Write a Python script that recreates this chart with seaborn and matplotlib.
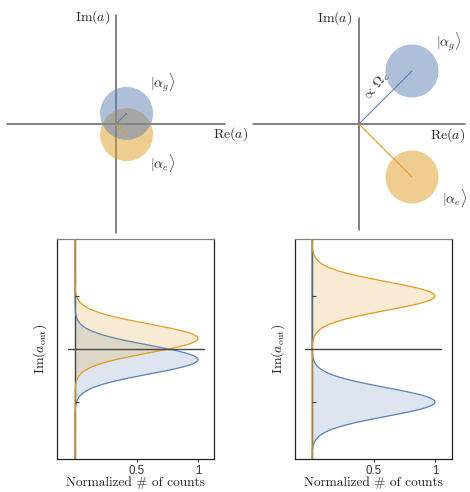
import numpy as np
import pandas as pd
import matplotlib
matplotlib.use("Agg")
import matplotlib.pyplot as plt
from matplotlib.patches import Circle
import seaborn as sns

sns.set_theme(style="white")
plt.rcParams["mathtext.fontset"] = "cm"
plt.rcParams["font.family"] = ["DejaVu Serif"]

# ---------------- data ----------------
states = ["g", "e"]
# coherent-state centres in phase space (Re, Im), small and large dispersive shift
centres_small = {"g": (0.2, 0.2), "e": (0.2, -0.2)}
centres_large = {"g": (1.0, 1.0), "e": (1.0, -1.0)}
circle_radius = 0.5
# histogram peaks of Im(a_out) (Gaussian means) and common width
peaks_small = {"g": -0.2, "e": 0.2}
peaks_large = {"g": -1.0, "e": 1.0}
peak_width = 0.27
x_ticks = [0.5, 1.0]
x_tick_labels = ["0.5", "1"]
y_ticks = [-1.0, 1.0]

BLUE = "#5e81b5"
ORANGE = "#e19c24"
colors = {"g": BLUE, "e": ORANGE}

W, H = 470, 492
fig = plt.figure(figsize=(W / 100, H / 100), dpi=100)


def px_axes(left, top, width, height, ox, oy, ppu_x, ppu_y):
    ax = fig.add_axes([left / W, 1 - (top + height) / H, width / W, height / H])
    ax.set_xlim((left - ox) / ppu_x, (left + width - ox) / ppu_x)
    ax.set_ylim((oy - (top + height)) / ppu_y, (oy - top) / ppu_y)
    return ax


AXC = "#5f5f5f"
FS = 10


def phase_panel(ax, centres, ext, txt):
    ax.axis("off")
    ax.plot([-ext, ext], [0, 0], color=AXC, lw=1.1, zorder=1)
    ax.plot([0, 0], [-ext, ext], color=AXC, lw=1.1, zorder=1)
    for s in ["e", "g"]:
        cx, cy = centres[s]
        ax.add_patch(Circle((cx, cy), circle_radius, facecolor=colors[s],
                            edgecolor="none", alpha=0.5, zorder=2))
    for s in states:
        cx, cy = centres[s]
        ax.plot([0, cx], [0, cy], color=colors[s], lw=0.8, zorder=3)
    ax.text(*txt["im"], r"$\mathrm{Im}(a)$", ha="right", va="center", fontsize=FS)
    ax.text(*txt["re"], r"$\mathrm{Re}(a)$", ha="left", va="center", fontsize=FS)
    ax.text(*txt["g"], r"$|\alpha_g\rangle$", ha="left", va="center", fontsize=FS)
    ax.text(*txt["e"], r"$|\alpha_e\rangle$", ha="left", va="center", fontsize=FS)


ax1 = px_axes(0, 0, 235, 238, 116, 124, 53, 53)
phase_panel(ax1, centres_small, 2.05,
            {"im": (-0.11, 2.02), "re": (1.83, -0.19), "g": (0.64, 0.79), "e": (0.64, -0.74)})

ax2 = px_axes(235, 0, 235, 238, 359, 124, 53, 53)
phase_panel(ax2, centres_large, 2.0,
            {"im": (-0.13, 2.0), "re": (1.34, -0.21), "g": (1.45, 1.55), "e": (1.57, -1.4)})
ax2.text(0.33, 0.7, r"$\propto\,\Omega_c$", rotation=52, ha="center", va="center",
         fontsize=FS, rotation_mode="anchor")

yy = np.linspace(-2.2, 2.2, 600)


def hist_panel(ax, peaks):
    for s in ["g", "e"]:
        prof = np.exp(-0.5 * ((yy - peaks[s]) / peak_width) ** 2)
        df = pd.DataFrame({"counts": prof, "im": yy})
        ax.fill_betweenx(yy, 0, prof, color=colors[s], alpha=0.2, lw=0, zorder=2)
        sns.lineplot(data=df, x="counts", y="im", orient="y", sort=True,
                     color=colors[s], lw=0.9, ax=ax, zorder=4)
    ax.axvline(0, color="#444444", lw=1.0, zorder=3)
    ax.plot([-0.06, 1.05], [0, 0], color="#444444", lw=1.0, zorder=5)
    ax.plot(np.zeros(len(y_ticks)), y_ticks, ls="", marker=1, ms=3,
            mew=0.8, color="#444444", zorder=5)
    ax.set_yticks([])
    ax.set_xticks(x_ticks)
    ax.set_xticklabels(x_tick_labels, fontfamily="Liberation Sans", fontsize=8.3)
    ax.tick_params(axis="x", direction="out", length=2.5, width=0.8, pad=1.5,
                   bottom=True, colors="#333333")
    for side, sp in ax.spines.items():
        sp.set_visible(True)
        sp.set_linewidth(0.9)
        sp.set_color("#222222")
    ax.spines["top"].set_color("#808080")
    ax.set_xlabel("Normalized # of counts", fontfamily="cmr10", fontsize=9.6,
                  labelpad=-0.2)
    ax.set_ylabel(r"$\mathrm{Im}(a_{\mathrm{out}})$", fontsize=FS, labelpad=6)


ax3 = px_axes(57, 239, 157, 220, 75, 349, 123, 53)
hist_panel(ax3, peaks_small)
ax4 = px_axes(295, 239, 157, 220, 312, 349, 123, 53)
hist_panel(ax4, peaks_large)

fig.savefig("out.png", dpi=100)
